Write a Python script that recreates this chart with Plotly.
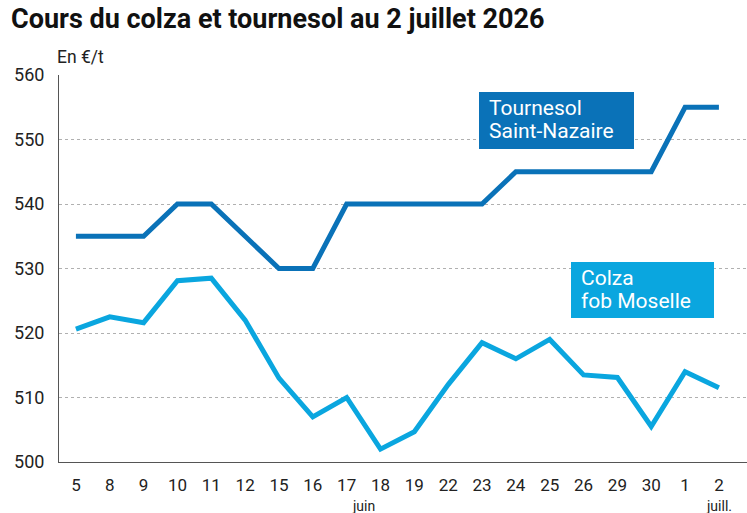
import plotly.graph_objects as go

days = ["5", "8", "9", "10", "11", "12", "15", "16", "17", "18", "19", "22", "23", "24", "25", "26", "29", "30", "1", "2"]
tournesol = [535, 535, 535, 540, 540, 535, 530, 530, 540, 540, 540, 540, 540, 545, 545, 545, 545, 545, 555, 555]
colza = [520.6, 522.5, 521.6, 528.1, 528.5, 522.0, 513.0, 507.0, 510.0, 502.0, 504.7, 512.0, 518.5, 516.0, 519.0, 513.5, 513.1, 505.5, 514.0, 511.5]
y_ticks = [500, 510, 520, 530, 540, 550, 560]

FONT = "Roboto"
DARK = "#0a72b8"
LIGHT = "#0aa6df"

x = list(range(len(days)))

fig = go.Figure()
fig.add_trace(go.Scatter(x=x, y=tournesol, mode="lines", line=dict(color=DARK, width=5), hoverinfo="skip"))
fig.add_trace(go.Scatter(x=x, y=colza, mode="lines", line=dict(color=LIGHT, width=5), hoverinfo="skip"))

W, H = 688, 387
L, T = 59, 75

def px(xp):
    return (xp - L) / W

def py(yp):
    return (T + H - yp) / H

fig.update_layout(
    width=747, height=513,
    margin=dict(l=L, r=0, t=T, b=51),
    paper_bgcolor="white", plot_bgcolor="white",
    showlegend=False,
    font=dict(family=FONT, color="#222222"),
    xaxis=dict(
        range=[-0.5, 19.83], tickmode="array", tickvals=x, ticktext=days,
        showgrid=False, zeroline=False, showline=True, linecolor="#555555", linewidth=1,
        ticks="", tickfont=dict(size=17, color="#222222"), ticklabelstandoff=8,
    ),
    yaxis=dict(
        range=[500, 560], tickmode="array", tickvals=y_ticks,
        showgrid=True, gridcolor="#b0b0b0", griddash="dot", gridwidth=1,
        zeroline=False, showline=True, linecolor="#555555", linewidth=1,
        ticks="", tickfont=dict(size=18, color="#222222"), ticklabelstandoff=10,
    ),
)

fig.add_annotation(text="<b>Cours du colza et tournesol au 2 juillet 2026</b>", xref="paper", yref="paper",
                   x=px(9), y=py(19), xanchor="left", yanchor="middle", showarrow=False,
                   font=dict(size=27, color="#111111", family=FONT))
fig.add_annotation(text="En €/t", xref="paper", yref="paper",
                   x=px(55), y=py(57), xanchor="left", yanchor="middle", showarrow=False,
                   font=dict(size=17.5, color="#222222", family=FONT))

# label boxes
fig.add_shape(type="rect", xref="paper", yref="paper", x0=px(479), x1=px(634), y0=py(149), y1=py(92),
              fillcolor=DARK, line=dict(width=0), layer="above")
fig.add_shape(type="rect", xref="paper", yref="paper", x0=px(571), x1=px(714), y0=py(318), y1=py(262),
              fillcolor=LIGHT, line=dict(width=0), layer="above")

def box_line(text, xl, ymid):
    fig.add_annotation(text=text, xref="paper", yref="paper", x=px(xl), y=py(ymid),
                       xanchor="left", yanchor="middle", showarrow=False, align="left",
                       font=dict(size=21, color="white", family=FONT))

box_line("Tournesol", 487, 108)
box_line("Saint-Nazaire", 487, 131)
box_line("Colza", 579, 278)
box_line("fob Moselle", 579, 301)

fig.add_annotation(text="juin", xref="x", yref="paper", x=8.5, y=py(496),
                   xanchor="center", yanchor="top", showarrow=False, font=dict(size=14, color="#222222", family=FONT))
fig.add_annotation(text="juill.", xref="x", yref="paper", x=19, y=py(496),
                   xanchor="center", yanchor="top", showarrow=False, font=dict(size=14, color="#222222", family=FONT))

fig.write_html("out.html")
